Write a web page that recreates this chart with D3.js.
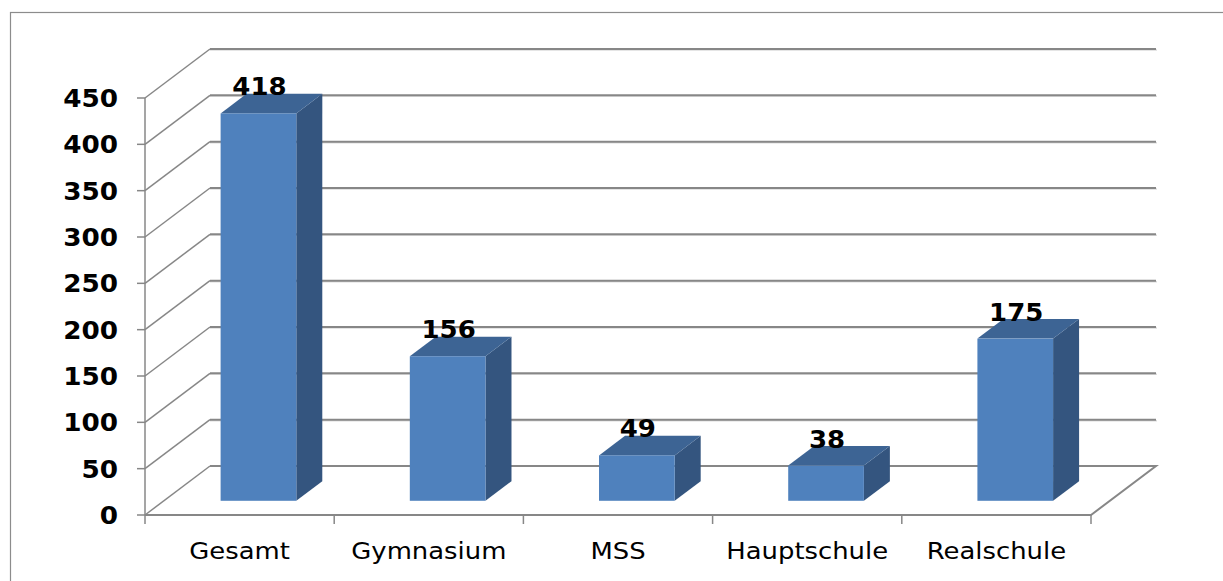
<!DOCTYPE html>
<html><head><meta charset="utf-8">
<script src="https://cdn.jsdelivr.net/npm/d3@7"></script>
<style>html,body{margin:0;padding:0;background:#fff;}svg{display:block;}</style>
</head><body>
<svg id="c" width="1223" height="581"></svg>
<script>
const categories = ["Gesamt","Gymnasium","MSS","Hauptschule","Realschule"];
const values = [418,156,49,38,175];
const yTicks = [0,50,100,150,200,250,300,350,400,450];

const svg = d3.select("#c");
const X0 = 145, X1 = 1091, Y0 = 515;
const DX = 65, DY = -49;           // full depth offset of the floor
const zF = 0.29, zB = 0.69;        // bar front/back depth fraction
const FONT = "'DejaVu Sans', Verdana, sans-serif";

const x = d3.scaleBand().domain(categories).range([X0, X1]).padding(0);
const xb = d3.scaleBand().domain(categories).range([X0, X1]).paddingInner(0.6).paddingOuter(0.3);
const h = d3.scaleLinear().domain([0,450]).range([0, Y0 - 98]);

function stretchedText(g, tx, ty, sx, anchor, size, weight, str) {
  return g.append("text")
    .attr("transform", `translate(${tx},${ty}) scale(${sx},1)`)
    .attr("text-anchor", anchor).attr("font-family", FONT)
    .attr("font-weight", weight).attr("font-size", size).attr("fill", "#000").text(str);
}

// outer frame
svg.append("rect").attr("x",10.5).attr("y",12.5).attr("width",1300).attr("height",700)
  .attr("fill","none").attr("stroke","#8c8c8c").attr("stroke-width",1.2);

const grid = "#878787";
yTicks.forEach(t => {
  const yf = Y0 - h(t), yb = yf + DY;
  if (t > 0) {
    svg.append("line").attr("x1",X0+DX).attr("x2",X1+DX+1).attr("y1",yb+1).attr("y2",yb+1)
      .attr("stroke","#dcdcdc").attr("stroke-width",1.5);
    svg.append("line").attr("x1",X0+DX).attr("x2",X1+DX).attr("y1",yb).attr("y2",yb)
      .attr("stroke",grid).attr("stroke-width",2);
  }
  svg.append("line").attr("x1",X0).attr("y1",yf).attr("x2",X0+DX).attr("y2",yb)
    .attr("stroke",grid).attr("stroke-width",1.5);
  svg.append("line").attr("x1",X0-8).attr("x2",X0).attr("y1",yf).attr("y2",yf)
    .attr("stroke",grid).attr("stroke-width",1.5);
  stretchedText(svg, 118, yf + 9, 1.05, "end", 25, "bold", t);
});

// floor
svg.append("path")
  .attr("d",`M${X0},${Y0}L${X1},${Y0}L${X1+DX},${Y0+DY}L${X0+DX},${Y0+DY}`)
  .attr("fill","none").attr("stroke",grid).attr("stroke-width",2);
svg.append("line").attr("x1",X0).attr("x2",X0).attr("y1",Y0-h(450)).attr("y2",Y0)
  .attr("stroke",grid).attr("stroke-width",1.5);
const bounds = categories.map(c => x(c)).concat([X1]);
bounds.forEach(b => {
  svg.append("line").attr("x1",b).attr("x2",b).attr("y1",Y0).attr("y2",Y0+9)
    .attr("stroke",grid).attr("stroke-width",1.5);
});

// bars
const fdx = DX*zF, fdy = DY*zF, sdx = DX*(zB-zF), sdy = DY*(zB-zF);
const bars = svg.append("g");
const labels = svg.append("g");
categories.forEach((c,i) => {
  const v = values[i];
  const xl = xb(c) + fdx, xr = xl + xb.bandwidth();
  const yb0 = Y0 + fdy, yt = yb0 - h(v);
  bars.append("path").attr("d",`M${xr},${yb0}L${xr+sdx},${yb0+sdy}L${xr+sdx},${yt+sdy}L${xr},${yt}Z`)
    .attr("fill","#34557f");
  bars.append("path").attr("d",`M${xl},${yt}L${xr},${yt}L${xr+sdx},${yt+sdy}L${xl+sdx},${yt+sdy}Z`)
    .attr("fill","#3d6494");
  bars.append("rect").attr("x",xl).attr("y",yt).attr("width",xb.bandwidth()).attr("height",h(v))
    .attr("fill","#4f81bd");
  stretchedText(labels, (xl+xr)/2 + 1, yt - 18, 1.04, "middle", 25, "bold", v);
  stretchedText(labels, x(c) + x.bandwidth()/2, 559, 1.15, "middle", 22.5, "normal", c);
});
</script>
</body></html>
